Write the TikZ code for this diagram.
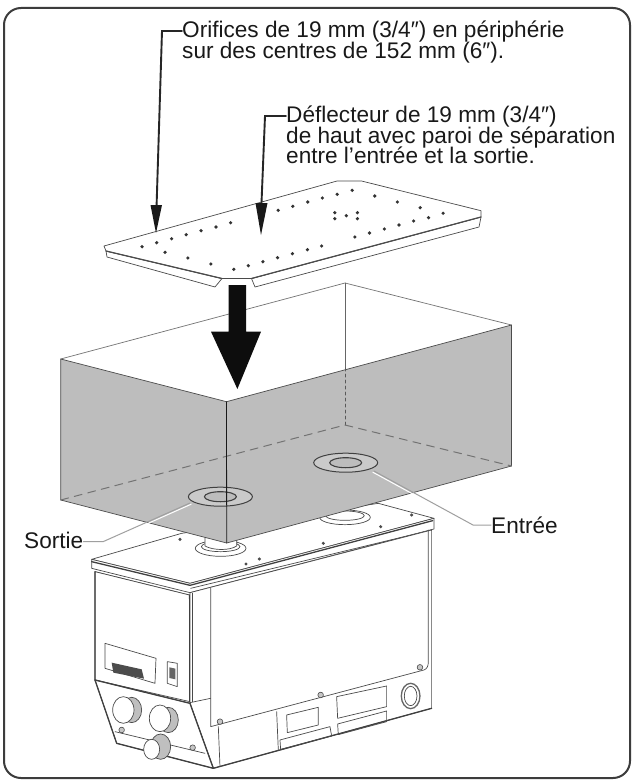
\documentclass[tikz,border=0pt]{standalone}
\usepackage{fontspec}
\setmainfont{Liberation Sans}
\usetikzlibrary{arrows.meta, calc, positioning}
\definecolor{boxgray}{HTML}{BDBDBD}
\definecolor{framegray}{HTML}{3C3C3C}
\definecolor{inkgray}{HTML}{4A4A4A}
\tikzset{
  label text/.style={inner sep=0pt, align=left, text=black!90, font=\fontsize{22.6}{24}\selectfont},
  pointer/.style={line width=1.9pt, black!85, line join=miter},
  pointer head/.style={fill=black!90, draw=none},
  soft leader/.style={line width=1pt, gray!75},
  soft glow/.style={line width=1pt, white},
  machine/.style={line width=0.7pt, inkgray, line join=round},
  machine heavy/.style={line width=1.3pt, black!75, line join=round},
  screw/.style={draw=inkgray, fill=gray!45, line width=0.6pt},
  plate dot/.style={fill=black!80},
}
\begin{document}
\begin{tikzpicture}[line cap=round, line join=round, x=1pt, y=-1pt]
\useasboundingbox (0,0) rectangle (634,781);
\fill [white] (0,0) rectangle (634,781);

% --- frame ---
\draw [line width=2pt, framegray, rounded corners=17pt] (4,8) rectangle (630,778);

% --- machine, in crop units ---
\begin{scope}[shift={(70,480)}, x=0.3333pt, y=-0.3333pt]
% top and lip
\draw [machine, fill=white] (65,238) -- (335,160) -- (925,70) -- (1092,115) -- (360,310) -- cycle;
\draw [machine, fill=white] (65,238) -- (360,310) -- (1092,115) -- (1092,147) -- (360,338) -- (65,265) -- cycle;
\draw [machine heavy] (65,245) -- (360,316) -- (1088,122);
\draw [machine] (75,275) -- (358,345);
\draw [machine] (362,325) -- (1085,150);
% flanges under the box
\draw [machine, fill=white] (452,205) ellipse [x radius=76, y radius=24];
\draw [machine, fill=white] (452,200) ellipse [x radius=58, y radius=15];
\draw [machine, fill=white] (405,170) -- (405,198) .. controls (430,212) and (480,212) .. (500,198) -- (500,170) -- cycle;
\draw [machine, fill=white] (825,112) ellipse [x radius=76, y radius=22];
\draw [machine, fill=white] (825,107) ellipse [x radius=58, y radius=14];
% body faces
\draw [machine, fill=white] (75,275) -- (358,345) -- (360,665) -- (75,600) -- cycle;
\draw [machine, fill=white] (360,338) -- (1085,150) -- (1085,685) -- (430,865) -- (360,670) -- cycle;
\draw [machine, fill=white] (75,600) -- (360,670) -- (430,865) -- (140,790) -- cycle;
\draw [machine heavy] (75,600) -- (360,670) -- (430,865) -- (1085,685);
\draw [machine heavy] (75,275) -- (75,600) -- (140,790) -- (430,865);
\draw [machine heavy] (358,345) -- (358,665);
\draw [machine] (366,340) -- (366,665);
% side cover
\draw [machine] (422,325) -- (422,740) -- (1062,570) .. controls (1072,566) and (1075,558) .. (1075,545) -- (1075,150);
\draw [machine] (360,668) -- (422,655);
\draw [machine] (445,740) -- (450,860);
% lower hatches
\draw [machine] (620,695) -- (625,810);
\draw [machine] (650,705) -- (745,682) -- (745,735) -- (652,758) -- cycle;
\draw [machine] (630,780) -- (780,740) -- (785,768) -- (632,808) -- cycle;
\draw [machine] (800,650) -- (950,618) -- (950,680) -- (803,715) -- cycle;
\draw [machine] (803,732) -- (950,693) -- (950,725) -- (805,764) -- cycle;
% gland on the right
\draw [machine heavy, gray!80!black] (1022,648) ellipse [x radius=28, y radius=38];
\draw [machine] (1022,648) ellipse [x radius=19, y radius=29];
% left face: plate and switch
\draw [machine] (105,490) -- (258,535) -- (255,610) -- (105,565) -- cycle;
\fill [black!70] (125,548) -- (215,568) -- (222,596) -- (130,578) -- cycle;
\draw [machine] (292,545) -- (322,550) -- (322,620) -- (292,610) -- cycle;
\fill [black!60] (298,562) -- (316,566) -- (316,598) -- (298,594) -- cycle;
% left face: knobs
\draw [machine] (135,755) -- (405,820);
\draw [machine, fill=gray!50] (185,690) ellipse [x radius=30, y radius=38];
\draw [machine, fill=white] (160,690) ellipse [x radius=32, y radius=40];
\draw [machine, fill=gray!50] (295,720) ellipse [x radius=30, y radius=38];
\draw [machine, fill=white] (270,715) ellipse [x radius=32, y radius=40];
\draw [machine, fill=gray!50] (272,800) ellipse [x radius=30, y radius=38];
\draw [machine, fill=white] (245,808) ellipse [x radius=24, y radius=30];
% screws
\foreach \sx/\sy in {450/725, 752/645, 1050/562, 155/750, 368/803}
  \draw [screw] (\sx,\sy) circle (2.8pt);
\foreach \sx/\sy in {330/178, 528/252, 568/237, 760/190, 932/140, 1025/105}
  \fill [black!70] (\sx,\sy) circle (1.7pt);
\end{scope}

% --- box ---
\coordinate (box_back) at (345,283);
\coordinate (box_right) at (511.5,325);
\coordinate (box_front) at (226.5,401.7);
\coordinate (box_left) at (60.7,359);
\coordinate (floor_left) at (60.7,500);
\coordinate (floor_right) at (511.5,466);
\coordinate (floor_front) at (226.7,543);
\coordinate (floor_back) at (345,425);
\coordinate (back_cross) at (345,368);

\fill [white] (box_back) -- (box_right) -- (box_front) -- (box_left) -- cycle;
\fill [boxgray] (box_left) -- (box_front) -- (box_right) -- (floor_right) -- (floor_front) -- (floor_left) -- cycle;
\draw [line width=0.7pt, gray!90!black] (box_left) -- (box_back) -- (box_right);
\draw [line width=0.7pt, black!70] (box_left) -- (box_front) -- (box_right) -- (floor_right) -- (floor_front) -- (floor_left) -- cycle;
\draw [line width=0.7pt, black!60] (box_back) -- (back_cross);
\draw [dashed, line width=1pt, black!65] (back_cross) -- (floor_back);
\draw [line width=1pt, gray!90!black, dash pattern=on 8pt off 6pt] (floor_left) -- (floor_back) -- (floor_right);

% --- rings ---
\foreach \rx/\ry in {345.7/462.7, 220.4/496.7} {
  \draw [line width=1pt, black!75, fill=boxgray!80!white] (\rx,\ry) ellipse [x radius=32, y radius=9.5];
  \draw [line width=1.1pt, black!75, fill=boxgray] (\rx,\ry) ellipse [x radius=16, y radius=5];
}
\draw [line width=0.8pt, black!90] (box_front) -- (floor_front);

% --- plate ---
\coordinate (plate_left) at (104,246);
\coordinate (plate_back_a) at (337,181);
\coordinate (plate_back_b) at (361.5,181);
\coordinate (plate_right) at (481,210.7);
\coordinate (plate_right_low) at (481,217);
\coordinate (notch_right) at (251.5,278.5);
\coordinate (notch_left) at (222,278.5);
\coordinate (plate_left_low) at (106,251);

\draw [machine, fill=white] (plate_left_low) -- (107,257) -- (215,287) -- (notch_left) -- cycle;
\draw [machine, fill=white] (notch_right) -- (255,287) -- (479,227) -- (plate_right_low) -- cycle;
\draw [machine, fill=white] (plate_left) -- (plate_back_a) -- (plate_back_b) -- (plate_right) -- (plate_right_low) -- (notch_right) -- (notch_left) -- (plate_left_low) -- cycle;
\draw [line width=1.2pt, black!70] (plate_left_low) -- (notch_left);
\draw [line width=1.2pt, black!70] (notch_right) -- (plate_right_low);

\foreach \px/\py in {142/246.7, 156.7/242.7, 171.6/238.7, 186.2/234.7, 201/230.7, 216/227, 230.6/222.7,
    278.2/210.3, 292.8/206.3, 307.7/202, 322.3/198, 337.2/194.3, 352.2/190.3,
    374.7/196, 397.3/202, 420.2/207.7, 443.1/213.3,
    428.5/217.7, 413.6/221, 399/225, 384.4/229, 369.5/233, 354.9/237,
    321.6/246, 307.4/249.7, 292.4/253.7, 277.5/257.7, 262.9/261.7, 248.3/265.7, 233.8/269.3,
    165/252.3, 187.9/258, 210.8/264,
    334.8/212.7, 334.8/218.7, 346.3/215.7, 357.4/212.7, 357.4/218.7}
  \fill [plate dot] (\px,\py) circle (1.8pt);

% --- large arrow ---
\fill [black!95] (228.5,285) -- (246,285) -- (246,331.7) -- (261,331.7) -- (237.4,389) -- (211,331.7) -- (228.5,331.7) -- cycle;

% --- labels ---
\node (orifices) [label text, anchor=base west] at (182,37.5) {Orifices de 19 mm (3/4″) en périphérie};
\node (centres) [label text, anchor=base west] at (182,59) {sur des centres de 152 mm (6″).};
\node (deflecteur) [label text, anchor=base west] at (286,122) {Déflecteur de 19 mm (3/4″)};
\node (paroi) [label text, anchor=base west] at (286,143) {de haut avec paroi de séparation};
\node (separation) [label text, anchor=base west] at (286,163.5) {entre l’entrée et la sortie.};
\node (entree) [label text, anchor=base west] at (491,533) {Entrée};
\node (sortie) [label text, anchor=base west] at (24,548) {Sortie};

% --- pointers ---
\coordinate (orifices_bend) at (162,31);
\coordinate (orifices_neck) at (156.6,205);
\coordinate (orifices_tip) at (156,233);
\coordinate (deflecteur_bend) at (265,116);
\coordinate (deflecteur_neck) at (261.5,203);
\coordinate (deflecteur_tip) at (261,235);

\draw [pointer] (orifices.west |- orifices_bend) -- (orifices_bend) -- (orifices_neck);
\fill [pointer head] (150.5,205) -- (162,205) -- (orifices_tip) -- cycle;
\draw [pointer] (deflecteur.west |- deflecteur_bend) -- (deflecteur_bend) -- (deflecteur_neck);
\fill [pointer head] (255.5,203) -- (267.5,203) -- (deflecteur_tip) -- cycle;

% --- soft leaders ---
\coordinate (entree_ring) at (374,471);
\coordinate (entree_bend) at (473,525);
\coordinate (sortie_ring) at (190,503);
\coordinate (sortie_bend) at (103,541.7);

\draw [soft glow] ([xshift=-1.2pt,yshift=-1.2pt]entree_ring) -- ([xshift=-1.2pt,yshift=-1.2pt]entree_bend);
\draw [soft leader] (entree_ring) -- (entree_bend) -- (entree.west |- entree_bend);
\draw [soft glow] ([xshift=1.2pt,yshift=-1.2pt]sortie_ring) -- ([xshift=1.2pt,yshift=-1.2pt]sortie_bend);
\draw [soft leader] (sortie_ring) -- (sortie_bend) -- (sortie.east |- sortie_bend);
\end{tikzpicture}
\end{document}
